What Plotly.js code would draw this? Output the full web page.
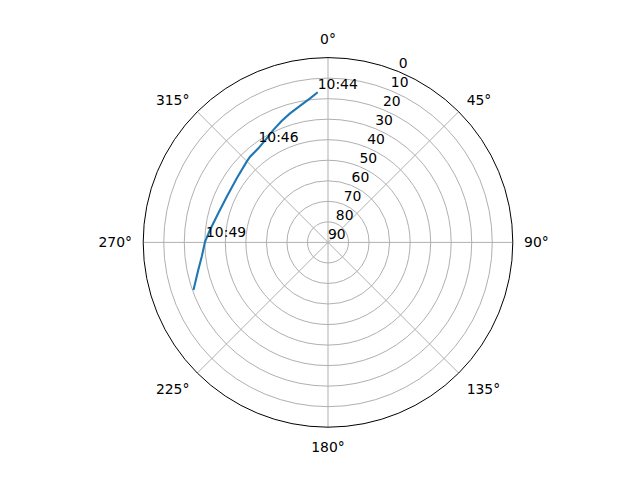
<!DOCTYPE html>
<html>
<head>
<meta charset="utf-8">
<script src="https://cdn.plot.ly/plotly-3.0.1.min.js"></script>
<style>html,body{margin:0;padding:0;background:#fff;}#chart{width:640px;height:480px;}</style>
</head>
<body>
<div id="chart"></div>
<script>
// Satellite track: azimuth (deg, clockwise from north) and elevation (deg)
const azimuth = [356.1, 352.9, 348.4, 343.6, 339.1, 334.1, 329.5, 323.5, 317.7, 314.8, 305.1, 294.3, 284.9, 276.0, 270.3, 263.5, 258.0, 250.5];
const elevation = [16.7, 19.3, 22.1, 24.5, 26.7, 29.1, 31.2, 33.0, 33.6, 34.2, 35.7, 35.9, 34.7, 32.2, 30.1, 28.1, 25.4, 20.5];

// Time labels along the track
const labelTimes = ["10:44", "10:46", "10:49"];
const labelAz = [356.1, 324.2, 270.7];
const labelEl = [16.7, 32.1, 30.6];

// Axis ticks
const angleTicks = [0, 45, 90, 135, 180, 225, 270, 315];
const radialTicks = [0, 10, 20, 30, 40, 50, 60, 70, 80, 90];

const font = {family: "DejaVu Sans", size: 13.9, color: "#000"};
const radialLabelAngle = 22.5;

const traces = [
  {
    type: "scatterpolar",
    mode: "lines",
    theta: azimuth,
    r: elevation,
    line: {color: "#1f77b4", width: 2.1},
    hoverinfo: "skip"
  },
  {
    type: "scatterpolar",
    mode: "text",
    theta: labelAz,
    r: labelEl,
    text: labelTimes,
    textposition: "top right",
    textfont: font,
    hoverinfo: "skip"
  },
  {
    // radial tick labels, placed like matplotlib (left/baseline at the tick)
    type: "scatterpolar",
    mode: "text",
    theta: radialTicks.map(() => radialLabelAngle),
    r: radialTicks,
    text: radialTicks.map(String),
    textposition: "top right",
    textfont: font,
    cliponaxis: false,
    hoverinfo: "skip"
  }
];

const layout = {
  width: 640,
  height: 480,
  margin: {l: 0, r: 0, t: 0, b: 0},
  paper_bgcolor: "#fff",
  plot_bgcolor: "#fff",
  showlegend: false,
  font: font,
  polar: {
    domain: {x: [143.2 / 640, 512.8 / 640], y: [52.8 / 480, 422.4 / 480]},
    bgcolor: "#fff",
    angularaxis: {
      rotation: 90,
      direction: "clockwise",
      tickmode: "array",
      tickvals: angleTicks,
      ticktext: angleTicks.map(v => v + "°"),
      ticks: "outside",
      ticklen: 8,
      tickcolor: "rgba(0,0,0,0)",
      showline: true,
      linecolor: "#000",
      linewidth: 1,
      showgrid: true,
      gridcolor: "#b0b0b0",
      gridwidth: 1,
      tickfont: font
    },
    radialaxis: {
      range: [90, 0],
      angle: 67.5,
      tickmode: "array",
      tickvals: radialTicks,
      ticks: "",
      showline: false,
      showticklabels: false,
      showgrid: true,
      gridcolor: "#b0b0b0",
      gridwidth: 1
    }
  }
};

Plotly.newPlot("chart", traces, layout, {displayModeBar: false, staticPlot: true});
</script>
</body>
</html>
